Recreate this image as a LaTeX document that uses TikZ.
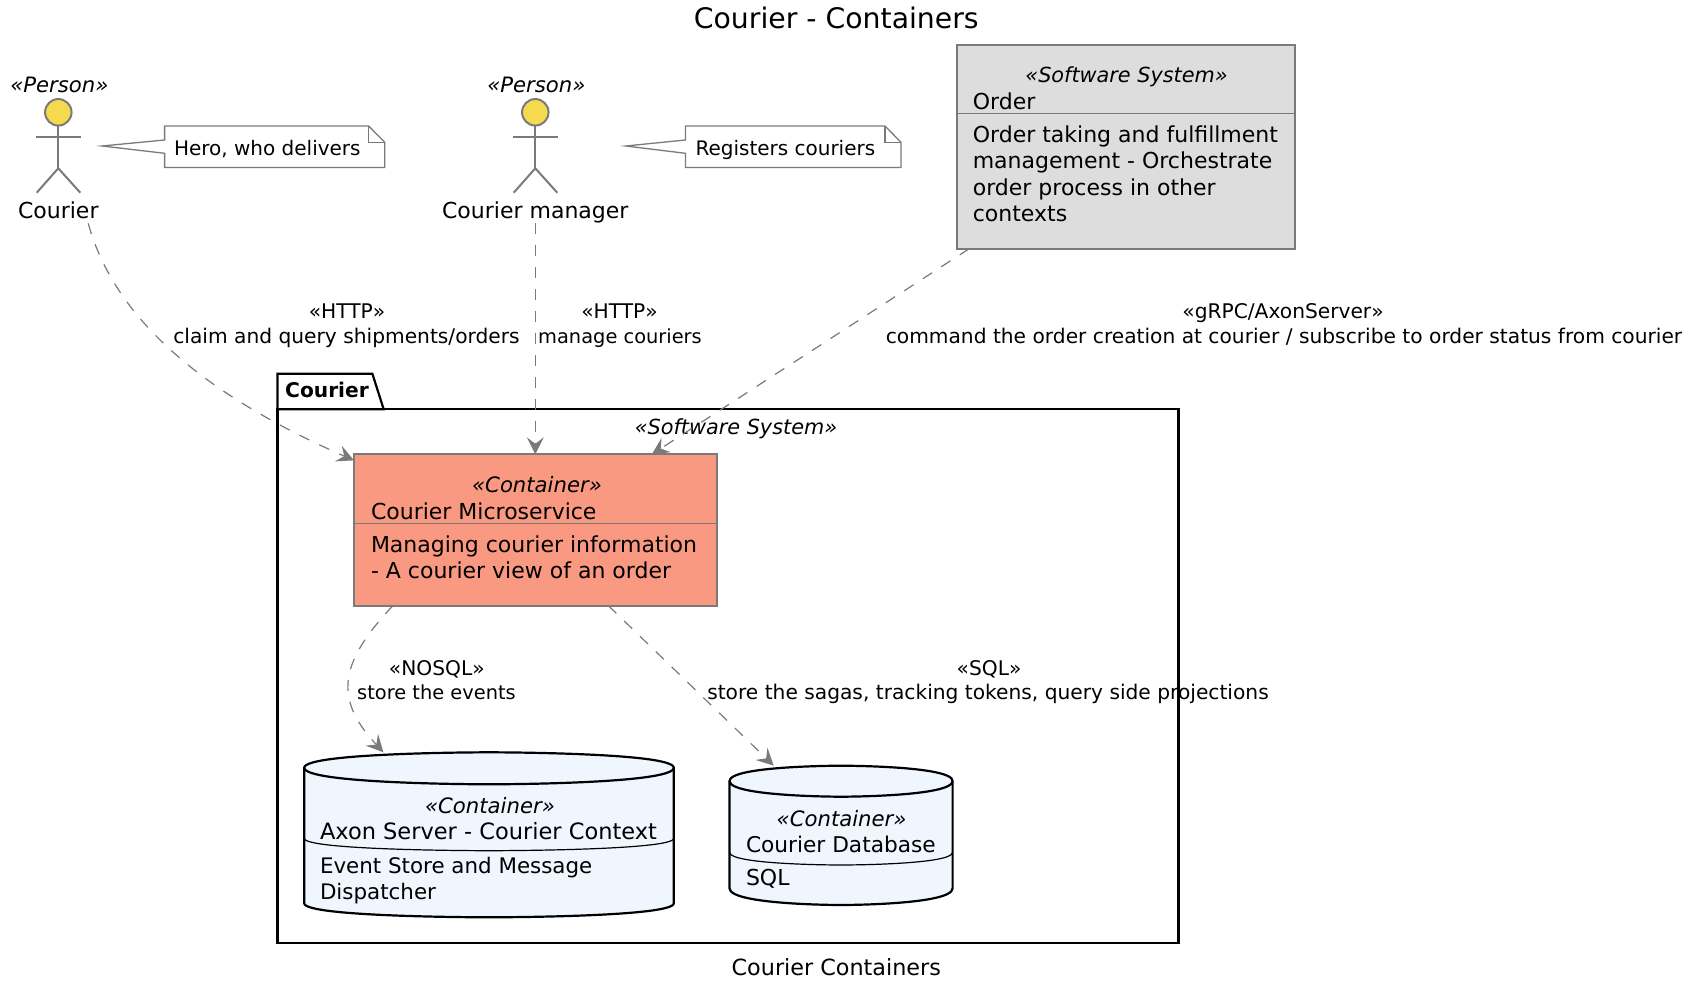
\documentclass[tikz,border=0pt]{standalone}
\usepackage{fontspec}
\setmainfont{DejaVu Sans}
\usetikzlibrary{arrows.meta}
\definecolor{gline}{HTML}{7A7A7A}
\definecolor{micfill}{HTML}{FA9982}
\definecolor{dbfill}{HTML}{EFF6FE}
\definecolor{ordfill}{HTML}{DDDDDD}
\definecolor{headfill}{HTML}{F5D94F}
\newcommand{\bodyfont}{\fontsize{22}{26}\selectfont}
\newcommand{\lblfont}{\fontsize{20.2}{26}\selectfont}
\newcommand{\cylbody}[7]{%
  \pgfmathsetmacro{\xm}{(#1+#2)/2}
  \draw[dbline,fill=dbfill] (#1,#4) .. controls (#1,#3) and (\xm,#3) .. (\xm,#3) .. controls (\xm,#3) and (#2,#3) .. (#2,#4)
    -- (#2,#5) .. controls (#2,#6) and (\xm,#6) .. (\xm,#6) .. controls (\xm,#6) and (#1,#6) .. (#1,#5) -- cycle;
  \draw[dbline] (#1,#4) .. controls (#1,#7) and (\xm,#7) .. (\xm,#7) .. controls (\xm,#7) and (#2,#7) .. (#2,#4);
}
\newcommand{\cylsep}[4]{%
  \pgfmathsetmacro{\xm}{(#1+#2)/2}
  \draw[black,line width=1.2pt] (#1,#3) .. controls (#1,#4) and (\xm,#4) .. (\xm,#4) .. controls (\xm,#4) and (#2,#4) .. (#2,#3);
}
\tikzset{
  x=1pt,y=-1pt,
  every node/.style={inner sep=0pt,outer sep=0pt,font=\bodyfont,text=black},
  tline/.style={text height=20pt,text depth=4.6pt},
  lefttext/.style={anchor=west,tline},
  ital/.style={tline,font=\fontsize{21.2}{26}\selectfont\itshape},
  ital2/.style={tline,font=\fontsize{20.8}{26}\selectfont\itshape},
  edgelbl/.style={tline,font=\lblfont},
  boxline/.style={draw=gline,line width=2.2pt},
  seam/.style={draw=gline,line width=1.2pt},
  dbline/.style={draw=black,line width=2.2pt},
  pkgline/.style={draw=black,line width=2.2pt},
  stick/.style={draw=gline,line width=2pt},
  noteline/.style={draw=gline,line width=1.3pt,fill=white},
  dep/.style={draw=gline,line width=1.2pt,dash pattern=on 11pt off 11pt,
    -{Stealth[length=17pt,width=17pt,inset=6.5pt,fill=gline,sep=0pt]}},
}
\begin{document}
\begin{tikzpicture}
\useasboundingbox (0,0) rectangle (1692,985);
\fill[white] (0,0) rectangle (1692,985);

% package
\draw[pkgline] (277.4,409.3) -- (277.4,373.8) -- (372.4,373.8) -- (383.7,409.3) -- cycle;
\draw[pkgline] (277.4,409.3) rectangle (1178.4,943);
\node[edgelbl,font=\lblfont\bfseries] (pkgname) at (327,390) {Courier};
\node[ital2] (pkgst) at (736,426.7) {«Software System»};

% order box
\node[boxline,fill=ordfill,minimum width=338.4pt,minimum height=203.7pt] (order) at (1125.8,147) {};
\draw[seam] (order.west |- 0,113.3) -- (order.east |- 0,113.3);
\node[ital2] (ordst) at (1126.6,75) {«Software System»};
\node[lefttext] (ordname) at (972.8,101.7) {Order};
\node[lefttext] (ordd1) at (972.8,134.3) {Order taking and fulfillment};
\node[lefttext] (ordd2) at (972.8,161) {management - Orchestrate};
\node[lefttext] (ordd3) at (972.8,187.3) {order process in other};
\node[lefttext] (ordd4) at (972.8,213.3) {contexts};

% microservice
\node[boxline,fill=micfill,minimum width=362.7pt,minimum height=151.4pt] (micro) at (535.3,530) {};
\draw[seam] (micro.west |- 0,523.3) -- (micro.east |- 0,523.3);
\node[ital] (micst) at (537,484.5) {«Container»};
\node[lefttext] (micname) at (371,512) {Courier Microservice};
\node[lefttext] (micd1) at (371,544.3) {Managing courier information};
\node[lefttext] (micd2) at (371,571) {- A courier view of an order};

% databases
\node[minimum width=369.6pt,minimum height=165pt] (axon) at (489,834.8) {};
\cylbody{304.2}{673.8}{752.3}{767.7}{903.3}{917.3}{784.3}
\cylsep{304.2}{673.8}{838.3}{850.7}
\node[ital] (axst) at (490,806) {«Container»};
\node[lefttext,font=\fontsize{22.5}{26}\selectfont] (axname) at (320,832) {Axon Server - Courier Context};
\node[lefttext,font=\fontsize{21.4}{26}\selectfont] (axd1) at (320,866) {Event Store and Message};
\node[lefttext,font=\fontsize{21.4}{26}\selectfont] (axd2) at (320,892) {Dispatcher};

\node[minimum width=223.1pt,minimum height=139.3pt] (cdb) at (841,835.3) {};
\cylbody{729.5}{952.6}{765.7}{781}{888.3}{905}{796.7}
\cylsep{729.5}{952.6}{852.3}{865}
\node[ital] (dbst) at (841.6,818.8) {«Container»};
\node[lefttext,font=\fontsize{21.7}{26}\selectfont] (dbname) at (746,845) {Courier Database};
\node[lefttext] (dbd1) at (746,878) {SQL};

% actors
\node[ital] (p1st) at (59.4,85) {«Person»};
\node[circle,draw=gline,line width=2pt,fill=headfill,minimum size=26.5pt] (head1) at (58.3,112.3) {};
\draw[stick] (head1.south) -- (58.3,168.3);
\draw[stick] (36,137.3) -- (80.7,137.3);
\draw[stick] (36.7,192.7) -- (58.3,168.3) -- (80.3,192.7);
\node[tline,minimum width=82pt,minimum height=25.4pt] (courier) at (58.3,210.7) {Courier};

\node[ital] (p2st) at (536.4,85) {«Person»};
\node[circle,draw=gline,line width=2pt,fill=headfill,minimum size=26.5pt] (head2) at (535.3,112.3) {};
\draw[stick] (head2.south) -- (535.3,168.3);
\draw[stick] (513,137.3) -- (557.7,137.3);
\draw[stick] (513.7,192.7) -- (535.3,168.3) -- (557.3,192.7);
\node[tline,minimum width=190pt,minimum height=25.4pt] (manager) at (535.3,210.7) {Courier manager};

% notes
\draw[noteline] (164.6,126) -- (368.6,126) -- (384.8,142.3) -- (384.8,167.5) -- (164.6,167.5) -- (164.6,153.3) -- (102,146) -- (164.6,140) -- cycle;
\draw[draw=gline,line width=1.2pt] (368.6,126) -- (368.6,142.3) -- (384.8,142.3);
\node[lefttext,font=\fontsize{20}{26}\selectfont] (note1) at (174,148) {Hero, who delivers};
\draw[noteline] (685.4,126) -- (885,126) -- (901,142.3) -- (901,167.5) -- (685.4,167.5) -- (685.4,153.3) -- (625.8,146) -- (685.4,140) -- cycle;
\draw[draw=gline,line width=1.2pt] (885,126) -- (885,142.3) -- (901,142.3);
\node[lefttext,font=\fontsize{20}{26}\selectfont] (note2) at (695.5,148) {Registers couriers};

% labels
\node[edgelbl] (t1) at (347,310.5) {«HTTP»};
\node[edgelbl] (t2) at (346.5,335.5) {claim and query shipments/orders};
\node[edgelbl] (t3) at (619.5,310.5) {«HTTP»};
\node[edgelbl,font=\fontsize{19.4}{26}\selectfont] (t4) at (620,335.5) {manage couriers};
\node[edgelbl] (t5) at (1283,310.5) {«gRPC/AxonServer»};
\node[edgelbl] (t6) at (1284,335.5) {command the order creation at courier / subscribe to order status from courier};
\node[edgelbl] (t7) at (436.8,668) {«NOSQL»};
\node[edgelbl,font=\fontsize{19.4}{26}\selectfont] (t8) at (436.5,692) {store the events};
\node[edgelbl] (t9) at (989,668) {«SQL»};
\node[edgelbl] (t10) at (988,692) {store the sagas, tracking tokens, query side projections};

% title, caption
\node[font=\fontsize{28.3}{32}\selectfont] (title) at (836.3,17.5) {Courier - Containers};
\node[tline,font=\fontsize{22.3}{26}\selectfont] (caption) at (836.3,968) {Courier Containers};

% connectors
\draw[dep] (courier.337.7) .. controls (115,320) and (205,395) .. (micro.159.8);
\draw[dep] (manager.south) -- (micro.north);
\draw[dep] (order.213.3) -- (micro.33.5);
\draw[dep] (micro.208) .. controls (337,665) and (335,700) .. (axon.142.8);
\draw[dep] (micro.314.6) -- (cdb.134.2);
\end{tikzpicture}
\end{document}
